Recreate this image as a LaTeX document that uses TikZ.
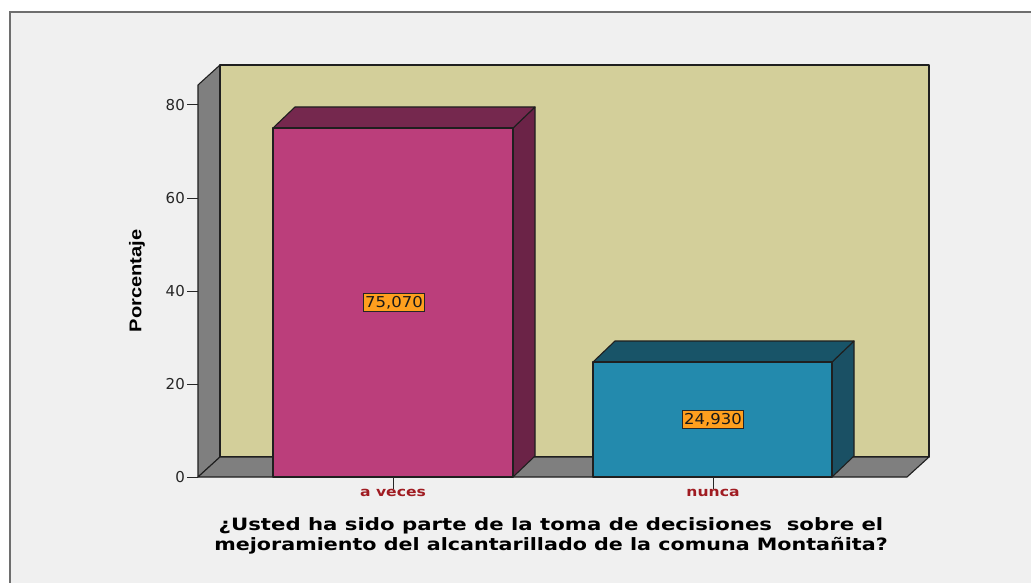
\documentclass[tikz,border=0pt]{standalone}
\usepackage{fontspec}
\setmainfont{DejaVu Sans}
\newfontfamily\arialf{Liberation Sans}
\definecolor{panel}{HTML}{F0F0F0}
\definecolor{framegray}{HTML}{6E6E6E}
\definecolor{backwall}{HTML}{D3CF9A}
\definecolor{wallgray}{HTML}{7F7F7F}
\definecolor{magfront}{HTML}{BB3E7B}
\definecolor{magtop}{HTML}{75284E}
\definecolor{magside}{HTML}{6B2347}
\definecolor{teafront}{HTML}{238AAD}
\definecolor{teatop}{HTML}{185468}
\definecolor{teaside}{HTML}{1A5064}
\definecolor{valorange}{HTML}{FF9F1E}
\definecolor{catred}{HTML}{A01C22}
\begin{document}
\begin{tikzpicture}[x=1pt,y=-1pt,
  edge/.style={draw=black!88, line width=1.1pt, line join=round},
  ticklbl/.style={anchor=east, inner sep=0pt, font=\fontsize{15}{15}\selectfont, text=black!85},
  vallbl/.style={draw=black!85, fill=valorange, line width=0.9pt, inner xsep=2pt, inner ysep=3pt, font=\fontsize{15}{15}\selectfont, text=black!90},
  catlbl/.style={anchor=north, inner sep=0pt, font=\bfseries\fontsize{13}{13}\selectfont, text=catred},
  tickln/.style={draw=black!85, line width=1pt}]
\useasboundingbox (0,0) rectangle (1031,583);
\clip (0,0) rectangle (1031,583);
\fill[white] (0,0) rectangle (1031,583);
\draw[fill=panel, draw=framegray, line width=2pt] (10,12) rectangle (1060,610);
% left wall, back wall, floor
\filldraw[fill=wallgray, edge] (198,477) -- (198,85) -- (220,65) -- (220,457) -- cycle;
\filldraw[fill=backwall, edge] (220,65) rectangle (929,457);
\filldraw[fill=wallgray, edge] (198,477) -- (220,457) -- (929,457) -- (907,477) -- cycle;
% y ticks
\foreach \v/\yy in {0/477,20/384,40/291,60/198,80/105}{
  \draw[tickln] (187,\yy) -- (198,\yy);
  \node[ticklbl] (t\v) at (185,\yy) {\v};
}
% bar a veces
\filldraw[fill=magside, edge] (513,128) -- (535,107) -- (535,456) -- (513,477) -- cycle;
\filldraw[fill=magtop, edge] (273,128) -- (295,107) -- (535,107) -- (513,128) -- cycle;
\filldraw[fill=magfront, edge] (273,128) rectangle (513,477);
% bar nunca
\filldraw[fill=teaside, edge] (832,362) -- (854,341) -- (854,456) -- (832,477) -- cycle;
\filldraw[fill=teatop, edge] (593,362) -- (615,341) -- (854,341) -- (832,362) -- cycle;
\filldraw[fill=teafront, edge] (593,362) rectangle (832,477);
% value labels
\node[vallbl] (v1) at (394,302.5) {\scalebox{1.1}[1]{75,070}};
\node[vallbl] (v2) at (713,419.5) {\scalebox{1.1}[1]{24,930}};
% category ticks and labels
\draw[tickln] (393,477) -- (393,489);
\draw[tickln] (713,477) -- (713,489);
\node[catlbl] (c1) at (393,489) {\scalebox{1.2}[1]{a veces}};
\node[catlbl] (c2) at (713,489) {\scalebox{1.2}[1]{nunca}};
% axis titles
\node[rotate=90, inner sep=0pt, font=\arialf\bfseries\fontsize{17}{17}\selectfont] (ylab) at (137,281) {\scalebox{1.18}[1]{Porcentaje}};
\node[inner sep=0pt, align=center, font=\bfseries\fontsize{17}{19.5}\selectfont] (xlab) at (551,536) {\scalebox{1.25}[1]{¿Usted ha sido parte de la toma de decisiones\ \ sobre el}\\\scalebox{1.215}[1]{mejoramiento del alcantarillado de la comuna Montañita?}};
\end{tikzpicture}
\end{document}
